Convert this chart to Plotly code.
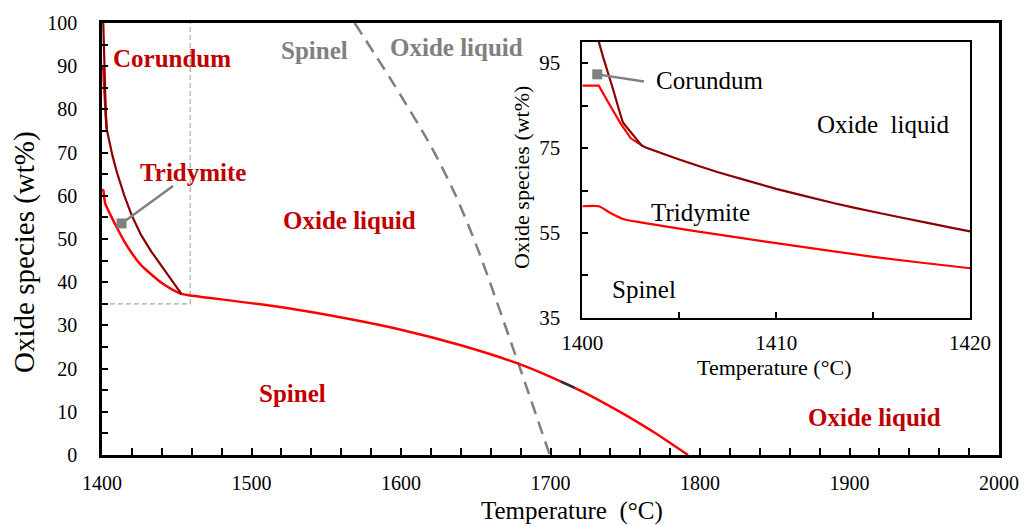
import plotly.graph_objects as go

# ---------------- data ----------------
# Corundum liquidus (dark red)
corundum_T = [1400.85, 1401.08, 1401.6, 1402.1, 1402.6, 1403.1, 1405, 1407, 1410, 1413, 1415, 1418, 1420,
              1426, 1433, 1443, 1453.1]
corundum_y = [100, 96.3, 88.6, 81, 78.2, 75.5, 72.3, 69.3, 65.4, 62, 60, 57.2, 55.4,
              51, 47.1, 42.2, 37.3]

# Upper red branch (from 90 wt%)
upper_T = [1400, 1400.85, 1401.28, 1401.97, 1402.5, 1403.1]
upper_y = [89.7, 89.7, 86.2, 80.8, 77.3, 75.5]

# Tridymite / spinel liquidus (red)
liquidus_T = [1400, 1400.85, 1401.45, 1402.1, 1403, 1405.9, 1410, 1415, 1420, 1426, 1433.6, 1440, 1447,
              1453.1, 1458, 1518, 1562, 1600, 1640, 1678, 1700, 1720, 1735, 1750, 1770, 1792]
liquidus_y = [61.3, 61.3, 59.7, 58.3, 57.5, 55.4, 52.6, 49.4, 46.7, 44.0, 41.6, 39.8, 38.3,
              37.3, 37.0, 34.3, 31.7, 29.0, 25.4, 21.2, 18.1, 14.9, 12.2, 9.3, 5.1, 0]

# small dark segment on the liquidus
dark_seg_T = [1707, 1716]
dark_seg_y = [17.0, 15.6]

# Spinel / oxide-liquid boundary (grey dashed)
spinel_T = [1569, 1594, 1620, 1636, 1651, 1678.5, 1699.5]
spinel_y = [100, 86.5, 71.5, 60.5, 48, 21.2, 0]

# zoom box outline
zoom_box_T = [1400, 1459, 1459]
zoom_box_y = [35, 35, 100]

# axis settings
main_x_range = [1400, 2000]
main_y_range = [0, 100]
inset_x_range = [1400, 1420]
inset_y_range = [35, 100]

FONT = "Liberation Serif, Times New Roman, serif"
DARK = "#8B0000"
RED = "#FF0000"
LABEL_RED = "#C00000"
GREY = "#808080"

fig = go.Figure()

# ---- main plot traces ----
fig.add_trace(go.Scatter(x=zoom_box_T, y=zoom_box_y, mode="lines",
                         line=dict(color="#A6A6A6", width=1.2, dash="5px,3px"),
                         hoverinfo="skip", showlegend=False))
fig.add_trace(go.Scatter(x=spinel_T, y=spinel_y, mode="lines", line_shape="spline",
                         line=dict(color="#7F7F7F", width=2.5, dash="13px,8px", smoothing=0.8),
                         showlegend=False))
fig.add_trace(go.Scatter(x=upper_T, y=upper_y, mode="lines",
                         line=dict(color=RED, width=2.5), showlegend=False))
fig.add_trace(go.Scatter(x=liquidus_T, y=liquidus_y, mode="lines", line_shape="spline",
                         line=dict(color=RED, width=2.5, smoothing=0.6), showlegend=False))
fig.add_trace(go.Scatter(x=corundum_T, y=corundum_y, mode="lines",
                         line=dict(color=DARK, width=2.2), showlegend=False))
fig.add_trace(go.Scatter(x=dark_seg_T, y=dark_seg_y, mode="lines",
                         line=dict(color="#203A3A", width=2.5), showlegend=False))

# ---- inset traces ----
fig.add_trace(go.Scatter(x=upper_T, y=upper_y, mode="lines", xaxis="x2", yaxis="y2",
                         line=dict(color=RED, width=2.2), showlegend=False))
fig.add_trace(go.Scatter(x=liquidus_T, y=liquidus_y, mode="lines", xaxis="x2", yaxis="y2",
                         line_shape="spline", line=dict(color=RED, width=2.2, smoothing=0.6),
                         showlegend=False))
fig.add_trace(go.Scatter(x=corundum_T, y=corundum_y, mode="lines", xaxis="x2", yaxis="y2",
                         line_shape="spline", line=dict(color=DARK, width=2.2, smoothing=0.3),
                         showlegend=False))

axis_common = dict(showgrid=False, zeroline=False, showline=True, linecolor="black",
                   mirror=True, ticks="inside", tickcolor="black", tickwidth=2)

fig.update_layout(
    width=1032, height=525,
    font=dict(family=FONT, color="black"),
    margin=dict(l=102, r=27, t=20, b=70),
    paper_bgcolor="white", plot_bgcolor="white",
    xaxis=dict(axis_common, range=main_x_range, dtick=100, ticklen=7, linewidth=2.5,
               minor=dict(dtick=20, ticks="inside", ticklen=7, tickwidth=2, tickcolor="black"),
               tickfont=dict(family=FONT, size=20, color="black"), ticklabelstandoff=8),
    yaxis=dict(axis_common, range=main_y_range, dtick=10, ticklen=6, linewidth=2.5,
               minor=dict(dtick=5, ticks="inside", ticklen=6, tickwidth=2, tickcolor="black"),
               tickfont=dict(family=FONT, size=20, color="black"), ticklabelstandoff=18),
    xaxis2=dict(axis_common, domain=[0.5355, 0.9678], anchor="y2", range=inset_x_range,
                dtick=10, ticklen=6, linewidth=2,
                minor=dict(dtick=5, ticks="inside", ticklen=6, tickwidth=2, tickcolor="black"),
                tickfont=dict(family=FONT, size=21, color="black"), ticklabelstandoff=5),
    yaxis2=dict(axis_common, domain=[0.3172, 0.9563], anchor="x2", range=inset_y_range,
                tick0=35, dtick=20, ticklen=6, linewidth=2,
                minor=dict(tick0=35, dtick=10, ticks="inside", ticklen=6, tickwidth=2, tickcolor="black"),
                tickfont=dict(family=FONT, size=21, color="black"), ticklabelstandoff=16),
)

annotations = []
# axis titles
annotations.append(dict(text="Temperature  (°C)", xref="paper", yref="paper", x=0.5244, y=-0.1287,
                        showarrow=False, font=dict(family=FONT, size=25, color="black"),
                        xanchor="center", yanchor="middle"))
annotations.append(dict(text="Oxide species (wt%)", xref="paper", yref="paper", x=-0.0864, y=0.4713,
                        showarrow=False, textangle=-90, font=dict(family=FONT, size=29, color="black"),
                        xanchor="center", yanchor="middle"))
annotations.append(dict(text="Temperature (°C)", xref="paper", yref="paper", x=0.7497, y=0.203,
                        showarrow=False, font=dict(family=FONT, size=22, color="black"),
                        xanchor="center", yanchor="middle"))
annotations.append(dict(text="Oxide species (wt%)", xref="paper", yref="paper", x=0.4684, y=0.6418,
                        showarrow=False, textangle=-90, font=dict(family=FONT, size=22, color="black"),
                        xanchor="center", yanchor="middle"))

# phase labels
def lab(text, x, y, color, size=25, bold=True, xr="x", yr="y"):
    t = f"<b>{text}</b>" if bold else text
    annotations.append(dict(text=t, x=x, y=y, xref=xr, yref=yr, showarrow=False,
                            font=dict(family=FONT, size=size, color=color),
                            xanchor="center", yanchor="middle"))

lab("Corundum", 1446.8, 91.7, LABEL_RED)
lab("Tridymite", 1460.8, 65.5, LABEL_RED)
lab("Oxide liquid", 1565.6, 54.3, LABEL_RED)
lab("Spinel", 1527.6, 14.2, LABEL_RED)
lab("Oxide liquid", 1916.6, 8.7, LABEL_RED)
lab("Spinel", 1541.9, 93.6, GREY)
lab("Oxide liquid", 1637.3, 94.3, GREY)

# inset labels
lab("Corundum", 1406.6, 91.0, "black", size=25, bold=False, xr="x2", yr="y2")
lab("Oxide  liquid", 1415.5, 80.5, "black", size=25, bold=False, xr="x2", yr="y2")
lab("Tridymite", 1406.07, 59.8, "black", size=25, bold=False, xr="x2", yr="y2")
lab("Spinel", 1403.2, 41.7, "black", size=25, bold=False, xr="x2", yr="y2")

# arrows
annotations.append(dict(text="", x=1413.1, y=53.6, ax=1448.5, ay=62.5, xref="x", yref="y",
                        axref="x", ayref="y", showarrow=True, arrowhead=7, arrowsize=1.0,
                        arrowwidth=2.5, arrowcolor=GREY, standoff=0))
annotations.append(dict(text="", x=1400.77, y=92.35, ax=1403.25, ay=90.6, xref="x2", yref="y2",
                        axref="x2", ayref="y2", showarrow=True, arrowhead=7, arrowsize=1.0,
                        arrowwidth=2.5, arrowcolor=GREY, standoff=0))

fig.update_layout(annotations=annotations)

fig.write_html("out.html", config={"displayModeBar": False},
               post_script="document.body.style.margin='0px';document.body.style.padding='0px';")
